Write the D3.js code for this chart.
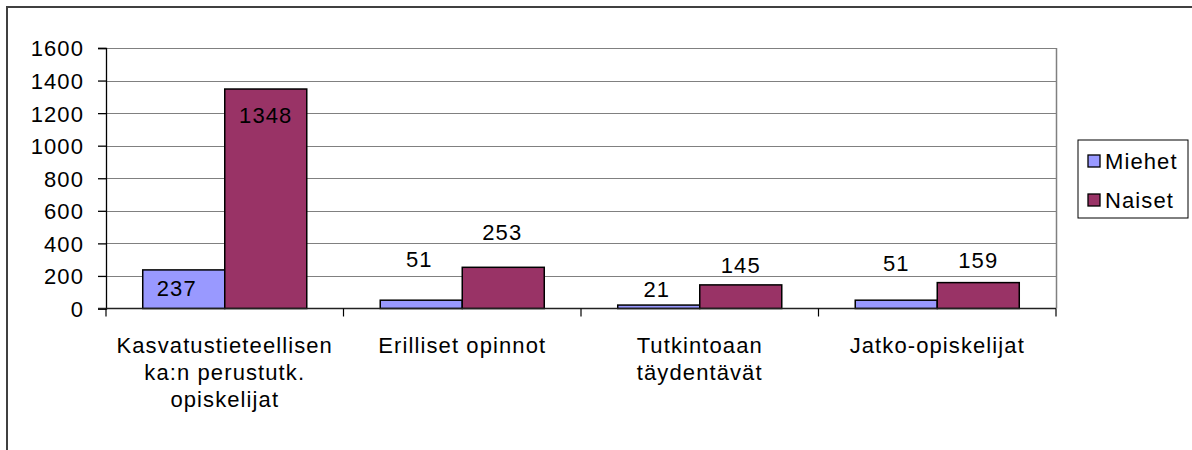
<!DOCTYPE html>
<html>
<head>
<meta charset="utf-8">
<script src="https://cdn.jsdelivr.net/npm/d3@7"></script>
<style>
  body { margin: 0; background: #fff; }
  svg text { font-family: "Liberation Sans", Arial, sans-serif; font-size: 22px; letter-spacing: 1.1px; fill: #000; }
</style>
</head>
<body>
<div id="chart"></div>
<script>
// data
const categories = [
    ["Kasvatustieteellisen", "ka:n perustutk.", "opiskelijat"],
    ["Erilliset opinnot"],
    ["Tutkintoaan", "täydentävät"],
    ["Jatko-opiskelijat"]
];
const seriesNames = ["Miehet", "Naiset"];
const miehet = [237, 51, 21, 51];
const naiset = [1348, 253, 145, 159];
const yTicks = [0, 200, 400, 600, 800, 1000, 1200, 1400, 1600];

const colors = { Miehet: "#9999ff", Naiset: "#993366" };

// label placement relative to bar top (px), labels were hand-moved in the original
const labelDy = { Miehet: [26, -33, -8, -29], Naiset: [34, -27, -12, -15] };
const labelDx = { Miehet: [-7, -2, -2, 0], Naiset: [0, -1, 0, 0] };

const W = 1192, H = 450;
const plot = { left: 106, right: 1056, top: 48, bottom: 308.5 };

const svg = d3.select("#chart")
    .append("svg")
    .attr("width", W)
    .attr("height", H);

// outer chart frame (right and bottom edges fall outside the picture)
svg.append("rect")
    .attr("x", 7).attr("y", 7)
    .attr("width", W + 20).attr("height", H + 20)
    .attr("fill", "none")
    .attr("stroke", "#404040")
    .attr("stroke-width", 2);

const x0 = d3.scaleBand()
    .domain(d3.range(categories.length))
    .range([plot.left, plot.right])
    .padding(0);

const x1 = d3.scaleBand()
    .domain(seriesNames)
    .range([0, x0.bandwidth()])
    .paddingInner(0)
    .paddingOuter(0.448);

const y = d3.scaleLinear()
    .domain([0, 1600])
    .range([plot.bottom, plot.top]);

// gridlines
svg.append("g")
    .selectAll("line")
    .data(yTicks.filter(d => d > 0))
    .enter()
    .append("line")
    .attr("x1", plot.left)
    .attr("x2", plot.right)
    .attr("y1", d => Math.round(y(d)) + 0.5)
    .attr("y2", d => Math.round(y(d)) + 0.5)
    .attr("stroke", "#808080")
    .attr("stroke-width", 1);

// plot area right border
svg.append("line")
    .attr("x1", plot.right + 0.5).attr("x2", plot.right + 0.5)
    .attr("y1", plot.top).attr("y2", plot.bottom)
    .attr("stroke", "#808080")
    .attr("stroke-width", 1.5);

// y axis
const yAxis = svg.append("g")
    .attr("transform", `translate(${plot.left},0)`)
    .call(d3.axisLeft(y).tickValues(yTicks).tickFormat(d3.format("d")).tickSize(8).tickPadding(14));
yAxis.select(".domain").attr("stroke", "#000").attr("stroke-width", 1.3);
yAxis.selectAll(".tick line").attr("stroke", "#000").attr("stroke-width", 1.3);
yAxis.selectAll(".tick text")
    .style("font-size", "22px")
    .attr("font-family", null)
    .attr("dy", "0.36em");

// bars
const groups = svg.append("g")
    .selectAll("g")
    .data(categories.map((c, i) => i))
    .enter()
    .append("g")
    .attr("transform", i => `translate(${x0(i)},0)`);

const barData = i => [
    { key: "Miehet", value: miehet[i], i },
    { key: "Naiset", value: naiset[i], i }
];

groups.selectAll("rect")
    .data(barData)
    .enter()
    .append("rect")
    .attr("x", d => x1(d.key))
    .attr("y", d => y(d.value))
    .attr("width", x1.bandwidth())
    .attr("height", d => plot.bottom - y(d.value))
    .attr("fill", d => colors[d.key])
    .attr("stroke", "#000")
    .attr("stroke-width", 1.5);

groups.selectAll("text.val")
    .data(barData)
    .enter()
    .append("text")
    .attr("class", "val")
    .attr("x", d => x1(d.key) + x1.bandwidth() / 2 + labelDx[d.key][d.i])
    .attr("y", d => y(d.value) + labelDy[d.key][d.i])
    .attr("text-anchor", "middle")
    .text(d => d.value);

// x axis
const xAxis = svg.append("g")
    .attr("transform", `translate(0,${plot.bottom})`);
xAxis.append("line")
    .attr("x1", plot.left - 8).attr("x2", plot.right)
    .attr("stroke", "#222")
    .attr("stroke-width", 1.5);
xAxis.selectAll("line.tick")
    .data(d3.range(categories.length + 1))
    .enter()
    .append("line")
    .attr("class", "tick")
    .attr("x1", i => i < categories.length ? x0(i) : plot.right)
    .attr("x2", i => i < categories.length ? x0(i) : plot.right)
    .attr("y1", 0).attr("y2", 8)
    .attr("stroke", "#000")
    .attr("stroke-width", 1.2);

const catLabels = xAxis.selectAll("text.cat")
    .data(categories)
    .enter()
    .append("text")
    .attr("class", "cat")
    .attr("text-anchor", "middle")
    .attr("x", (d, i) => x0(i) + x0.bandwidth() / 2)
    .attr("y", 44);
catLabels.selectAll("tspan")
    .data(d => d)
    .enter()
    .append("tspan")
    .attr("x", function() { return d3.select(this.parentNode).attr("x"); })
    .attr("dy", (d, j) => j === 0 ? 0 : 27)
    .text(d => d);

// legend
const legend = svg.append("g").attr("transform", "translate(1078,140)");
legend.append("rect")
    .attr("width", 110).attr("height", 78)
    .attr("fill", "#fff")
    .attr("stroke", "#000")
    .attr("stroke-width", 1);
const item = legend.selectAll("g.item")
    .data(seriesNames)
    .enter()
    .append("g")
    .attr("class", "item")
    .attr("transform", (d, i) => `translate(10,${21 + i * 39})`);
item.append("rect")
    .attr("x", 0).attr("y", -6)
    .attr("width", 12).attr("height", 12)
    .attr("fill", d => colors[d])
    .attr("stroke", "#000")
    .attr("stroke-width", 1.3);
item.append("text")
    .attr("x", 17)
    .attr("dy", "0.36em")
    .text(d => d);
</script>
</body>
</html>
